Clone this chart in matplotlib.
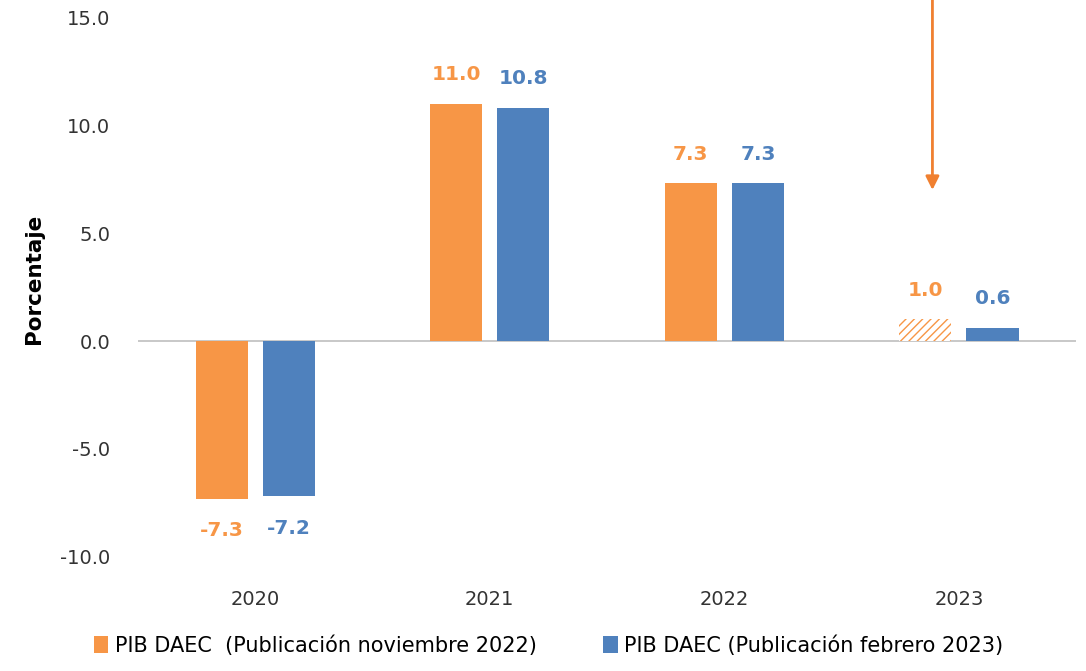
import numpy as np
import matplotlib.pyplot as plt

years = ["2020", "2021", "2022", "2023"]
nov_2022 = [-7.3, 11.0, 7.3, 1.0]
feb_2023 = [-7.2, 10.8, 7.3, 0.6]
legend_labels = ["PIB DAEC  (Publicación noviembre 2022)",
                 "PIB DAEC (Publicación febrero 2023)"]

orange = "#F79646"
blue = "#4F81BD"

fig = plt.figure(figsize=(10.86, 6.71), dpi=100)
ax = fig.add_axes([0.127, 0.170, 0.864, 0.830])

x = np.arange(len(years))
w = 0.222
off = 0.143

bars_o = ax.bar(x - off, nov_2022, w, color=orange, label=legend_labels[0])
bars_b = ax.bar(x + off, feb_2023, w, color=blue, label=legend_labels[1])

# last orange bar is a projection: hatched
plt.rcParams["hatch.linewidth"] = 2.0
bars_o[-1].set_facecolor("white")
bars_o[-1].set_edgecolor(orange)
bars_o[-1].set_hatch("////")
bars_o[-1].set_linewidth(0)

for bars, vals, c in [(bars_o, nov_2022, orange), (bars_b, feb_2023, blue)]:
    for b, v in zip(bars, vals):
        dy = 21 if v >= 0 else -23
        ax.annotate(f"{v:.1f}", (b.get_x() + b.get_width() / 2, v),
                    xytext=(0, dy), textcoords="offset points",
                    ha="center", va="center", color=c,
                    fontsize=14.5, fontweight="bold")

ax.annotate("", xy=(x[3] - off + 0.03, 7.0), xytext=(x[3] - off + 0.03, 15.8),
            arrowprops=dict(arrowstyle="-|>", color="#F08030", lw=2,
                            mutation_scale=20, shrinkA=0, shrinkB=0))

ax.set_xlim(-0.5, 3.5)
ax.set_ylim(-10, 15.8)
ax.set_yticks([-10, -5, 0, 5, 10, 15])
ax.set_yticklabels([f"{t:.1f}" for t in [-10, -5, 0, 5, 10, 15]])
ax.set_xticks(x)
ax.set_xticklabels(years)
ax.tick_params(axis="both", length=0, labelsize=14, colors="#333333")
ax.tick_params(axis="y", pad=20)
ax.tick_params(axis="x", pad=24)
for s in ax.spines.values():
    s.set_visible(False)
ax.axhline(0, color="#BFBFBF", lw=1.2, zorder=0)

ax.set_ylabel("Porcentaje", fontsize=15.5, fontweight="bold")
ax.yaxis.set_label_coords(-0.1, 0.50)

fig.legend(handles=[bars_o[0], bars_b[0]], labels=legend_labels,
           loc="lower center", bbox_to_anchor=(0.505, -0.005), ncol=2,
           frameon=False, handlelength=0.7, handleheight=0.9,
           handletextpad=0.3, columnspacing=3.2,
           prop={"family": ["Liberation Sans Narrow", "DejaVu Sans"], "size": 15})

fig.savefig("out.png", dpi=100)
